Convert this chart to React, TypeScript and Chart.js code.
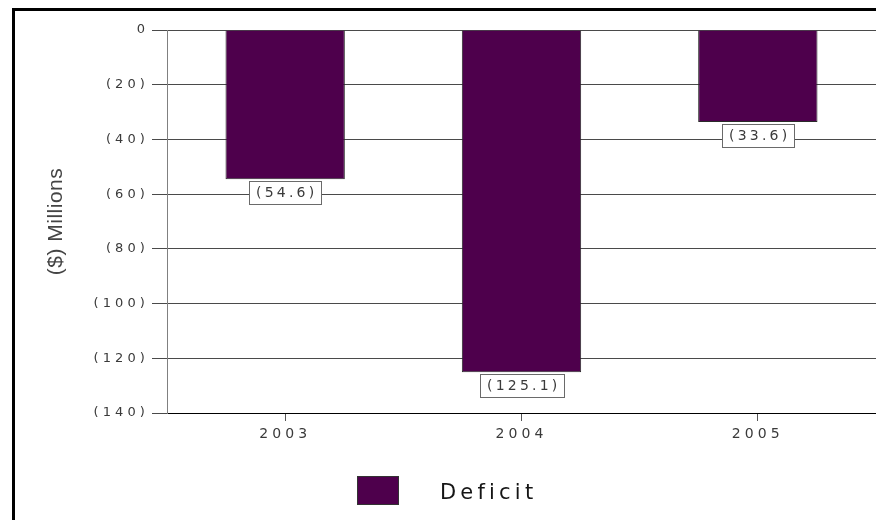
import React, { useEffect, useRef } from 'react';
import { Chart, registerables } from 'chart.js';

Chart.register(...registerables);

const categories = ['2003', '2004', '2005'];
const deficitValues = [-54.6, -125.1, -33.6];
const seriesName = 'Deficit';
const axisTitle = '($) Millions';
const yMin = -140;
const yMax = 0;
const yStep = 20;

const BAR_COLOR = '#4E004C';
const FONT = '"Liberation Sans", Arial, Helvetica, sans-serif';
const WIDE = '"DejaVu Sans", "Liberation Sans", sans-serif';

function fmt(v: number, decimals: number): string {
  if (v < 0) return '(' + Math.abs(v).toFixed(decimals) + ')';
  return v.toFixed(decimals);
}

const decorPlugin = {
  id: 'decor',
  beforeDraw(chart: any) {
    chart.ctx.letterSpacing = '0.5px';
  },
  afterDatasetsDraw(chart: any) {
    const ctx = chart.ctx;
    ctx.save();
    ctx.letterSpacing = '3.2px';
    ctx.font = '14px ' + WIDE;
    const meta = chart.getDatasetMeta(0);
    meta.data.forEach((bar: any, i: number) => {
      const text = fmt(deficitValues[i], 1);
      const w = Math.round(ctx.measureText(text).width + 11);
      const h = 23;
      const x = Math.round(bar.x - w / 2);
      const y = Math.round(bar.y + 2);
      ctx.fillStyle = '#ffffff';
      ctx.fillRect(x, y, w, h);
      ctx.strokeStyle = '#6a6a6a';
      ctx.lineWidth = 1;
      ctx.strokeRect(x + 0.5, y + 0.5, w, h);
      ctx.fillStyle = '#3a3a3a';
      ctx.textBaseline = 'middle';
      ctx.textAlign = 'left';
      ctx.fillText(text, x + 7, y + h / 2 + 1);
    });
    ctx.restore();
    ctx.letterSpacing = '4.1px';
  },
  afterDraw(chart: any) {
    const ctx = chart.ctx;
    ctx.save();
    // legend
    ctx.letterSpacing = '4.2px';
    ctx.fillStyle = BAR_COLOR;
    ctx.fillRect(357, 476, 42, 29);
    ctx.strokeStyle = '#333';
    ctx.lineWidth = 1;
    ctx.strokeRect(357.5, 476.5, 41, 28);
    ctx.fillStyle = '#151515';
    ctx.font = '21px ' + WIDE;
    ctx.textAlign = 'left';
    ctx.textBaseline = 'alphabetic';
    ctx.fillText(seriesName, 440, 499);
    // frame
    ctx.fillStyle = '#000';
    ctx.fillRect(12, 8, chart.width, 3);
    ctx.fillRect(12, 8, 3, chart.height);
    ctx.restore();
  },
};

export default function App() {
  const ref = useRef<HTMLCanvasElement | null>(null);
  useEffect(() => {
    if (!ref.current) return;
    const chart = new Chart(ref.current, {
      type: 'bar',
      data: {
        labels: categories,
        datasets: [
          {
            label: seriesName,
            data: deficitValues,
            backgroundColor: BAR_COLOR,
            borderColor: '#2a2a2a',
            borderWidth: 1,
            barPercentage: 0.505,
            categoryPercentage: 1,
          },
        ],
      },
      options: {
        responsive: false,
        animation: false,
        layout: { padding: { left: 15, top: 30, right: 0, bottom: 0 } },
        plugins: {
          legend: { display: false },
          tooltip: { enabled: false },
        },
        scales: {
          x: {
            grid: {
              offset: false,
              drawOnChartArea: false,
              drawTicks: true,
              tickLength: 8,
              color: '#555',
            },
            border: { display: true, color: '#000', width: 1 },
            ticks: {
              z: 1,
              color: '#3a3a3a',
              font: { family: WIDE, size: 14 },
              padding: 5,
              maxRotation: 0,
              autoSkip: false,
            },
            afterFit(scale: any) {
              scale.height = 107;
            },
          },
          y: {
            min: yMin,
            max: yMax,
            grid: {
              color: '#4a4a4a',
              tickLength: 15,
              drawTicks: true,
            },
            border: { display: true, color: '#808080', width: 1 },
            ticks: {
              z: 1,
              stepSize: yStep,
              color: '#3a3a3a',
              font: { family: WIDE, size: 13 },
              padding: 3,
              callback: (v: any) => fmt(Number(v), 0),
            },
            title: {
              display: true,
              text: axisTitle,
              color: '#444',
              font: { family: FONT, size: 21 },
              padding: { top: 29, bottom: 0 },
            },
            afterFit(scale: any) {
              scale.width = 152;
            },
          },
        },
      },
      plugins: [decorPlugin],
    } as any);
    return () => chart.destroy();
  }, []);
  return (
    <div style={{ position: 'fixed', left: 0, top: 0, width: 876, height: 520, background: '#fff' }}>
      <canvas ref={ref} width={876} height={520} style={{ display: 'block' }} />
    </div>
  );
}
